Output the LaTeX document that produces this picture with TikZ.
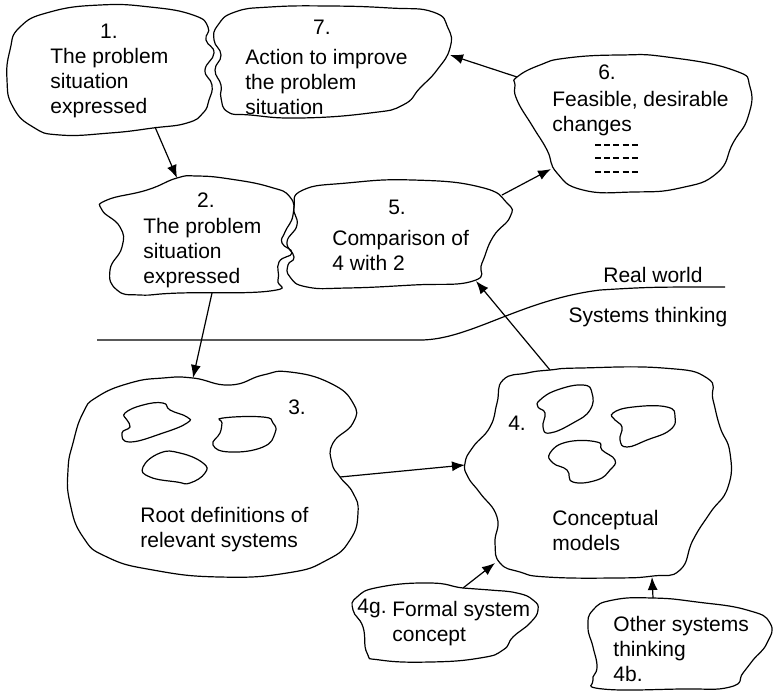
\documentclass[tikz,border=0pt]{standalone}
\usepackage{fontspec}
\setmainfont{Liberation Sans}
\usetikzlibrary{arrows.meta}

\begin{document}
\begin{tikzpicture}[
    x=0.5pt, y=-0.5pt,
    every node/.style={font=\fontsize{10.5}{12.5}\selectfont, inner sep=0pt},
    txt/.style={align=left, anchor=west},
    blob/.style={line width=0.6pt, smooth cycle, tension=0.85},
    small/.style={line width=0.6pt, smooth cycle, tension=0.8},
    arr/.style={-{Latex[length=6.5pt, width=5pt]}, line width=0.6pt}
]
\useasboundingbox (0,0) rectangle (774,691);

% Blob 1 - problem situation
\draw[blob] plot coordinates {(20,27) (50,12) (100,5) (150,7) (193,15) (208,27) (206,40) (214,53) (205,70) (212,85) (209,100) (203,113) (187,123) (153,128) (110,133) (60,135) (33,127) (13,107) (7,80) (10,50)};
\node at (109,31) {1.};
\node[txt] (t1) at (50,83) {The problem\\situation\\expressed};

% Blob 7 - action
\draw[blob] plot coordinates {(218,25) (235,12) (270,7) (330,6) (390,8) (433,12) (448,28) (450,48) (437,70) (420,88) (403,105) (370,113) (300,118) (250,115) (228,112) (221,98) (221,85) (215,70) (221,55) (214,40)};
\node at (322,27) {7.};
\node[txt] (t7) at (245,82) {Action to improve\\the problem\\situation};

% Blob 6 - changes
\draw[blob] plot coordinates {(517,77) (540,65) (567,58) (620,55) (667,57) (733,70) (750,87) (748,117) (733,143) (717,173) (680,188) (633,192) (583,190) (557,173) (547,150) (533,127) (517,100) (515,85)};
\node at (607,72) {6.};
\node[txt] (t6) at (552,114) {Feasible, desirable\\changes};
\foreach \y in {145,158,172}
    \draw[line width=0.6pt, dash pattern=on 3pt off 1.6pt] (595,\y) -- (640,\y);

% Blob 2 - problem situation
\draw[blob] plot coordinates {(107,200) (147,190) (177,178) (197,176) (230,179) (270,187) (290,197) (293,215) (285,232) (282,243) (292,253) (279,262) (278,280) (270,291) (180,293) (140,295) (117,290) (110,270) (122,247) (120,227) (102,210)};
\node at (206,200) {2.};
\node[txt] (t2) at (143,253) {The problem\\situation\\expressed};

% Blob 5 - comparison
\draw[blob] plot coordinates {(303,190) (347,183) (413,180) (480,187) (507,203) (510,217) (493,237) (482,263) (473,281) (413,285) (347,288) (307,287) (290,277) (288,265) (294,257) (287,242) (297,225) (294,207)};
\node at (397,207) {5.};
\node[txt] (t5) at (332,250) {Comparison of\\4 with 2};

% Real world / systems thinking line
\draw[line width=0.6pt] (97,340) -- (420,340) .. controls (470,340) and (520,300) .. (600,290) .. controls (650,287) .. (725,287);
\node (rw) at (653,275) {Real world};
\node (st) at (648,317) {Systems thinking};

% Blob 3 - root definitions
\draw[blob] plot coordinates {(97,397) (130,383) (163,378) (193,378) (230,385) (263,375) (290,372) (330,383) (353,403) (353,423) (333,443) (332,463) (340,477) (353,493) (358,513) (350,540) (327,560) (287,573) (220,577) (153,570) (107,557) (83,537) (70,503) (68,470) (73,443) (83,413)};
\draw[small] plot coordinates {(125,413) (143,405) (163,403) (170,410) (187,417) (187,423) (163,433) (130,442) (122,433) (130,427) (127,420)};
\draw[small] plot coordinates {(223,418) (263,417) (273,423) (275,433) (263,447) (230,452) (213,445) (220,433) (222,423)};
\draw[small] plot coordinates {(143,467) (160,453) (180,453) (203,463) (205,473) (190,483) (177,482) (150,477)};
\node at (297,407) {3.};
\node[txt] (t3) at (140,530) {Root definitions of\\relevant systems};

% Blob 4 - conceptual models
\draw[blob] plot coordinates {(527,373) (550,370) (580,368) (663,368) (707,378) (713,400) (720,427) (730,453) (728,487) (710,513) (693,540) (680,570) (653,576) (613,578) (547,577) (520,572) (500,563) (495,543) (497,517) (480,493) (468,477) (465,463) (473,447) (490,427) (497,403) (503,380)};
\draw[small] plot coordinates {(540,400) (557,390) (583,385) (592,393) (590,410) (573,423) (550,433) (543,427) (545,413) (538,407)};
\draw[small] plot coordinates {(613,413) (633,407) (667,407) (675,417) (670,430) (647,440) (627,447) (620,440) (622,427) (615,420)};
\draw[small] plot coordinates {(550,453) (567,442) (597,442) (602,450) (615,460) (610,470) (597,480) (573,482) (567,470) (553,463)};
\node at (517,423) {4.};
\node[txt] (t4) at (552,530) {Conceptual\\models};

% Blob 4g - formal system concept
\draw[blob] plot coordinates {(430,583) (463,588) (490,590) (517,593) (533,600) (538,610) (530,623) (513,637) (503,650) (480,658) (430,662) (380,660) (367,653) (363,627) (353,610) (357,597) (380,587)};
\node at (372,608) {4g.};
\node[txt] (t4g) at (392,624) {Formal system\\concept};

% Blob 4b - other systems thinking
\draw[blob] plot coordinates {(613,600) (653,598) (697,602) (747,610) (770,623) (767,643) (753,660) (743,673) (730,687) (680,689) (603,689) (593,680) (597,667) (593,647) (588,627) (593,610)};
\node[txt] (t4b) at (613,649) {Other systems\\thinking\\4b.};

% Connector ends
\coordinate (b1out) at (155,127);
\coordinate (b2in) at (177,178);
\coordinate (b2out) at (212,293);
\coordinate (b3in) at (193,378);
\coordinate (b3out) at (340,477);
\coordinate (b4in) at (465,465);
\coordinate (b4out) at (550,370);
\coordinate (b5in) at (476,281);
\coordinate (b5out) at (502,195);
\coordinate (b6in) at (551,169);
\coordinate (b6out) at (517,77);
\coordinate (b7in) at (450,55);
\coordinate (b4gout) at (463,588);
\coordinate (b4gin) at (495,563);
\coordinate (b4bout) at (653,598);
\coordinate (b4bin) at (652,577);

% Arrows
\foreach \i/\j in {b1out/b2in, b2out/b3in, b3out/b4in, b4out/b5in,
                   b5out/b6in, b6out/b7in, b4gout/b4gin, b4bout/b4bin}
    \draw[arr] (\i) -- (\j);

\end{tikzpicture}
\end{document}
